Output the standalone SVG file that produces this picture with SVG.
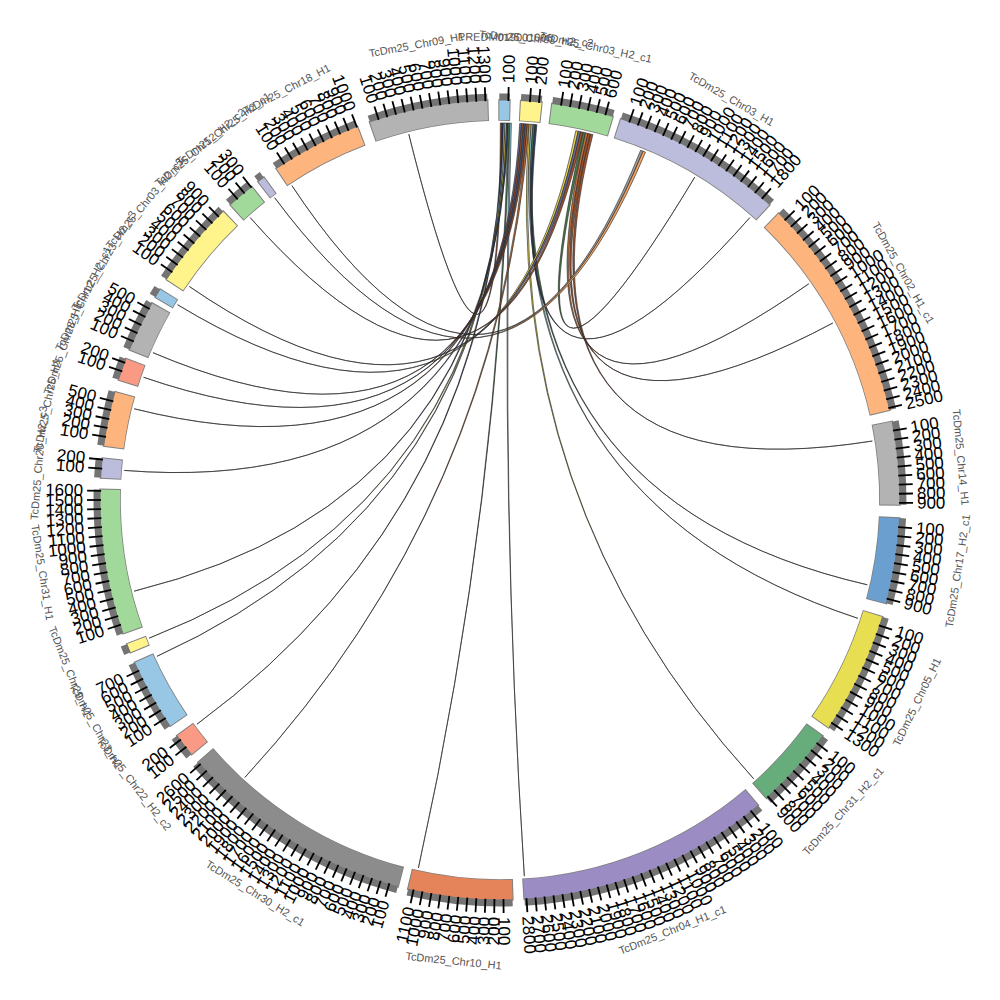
<svg xmlns="http://www.w3.org/2000/svg" xmlns:xlink="http://www.w3.org/1999/xlink" width="1000" height="1000" viewBox="0 0 1000 1000">
<style>
text{font-family:"Liberation Sans",Arial,sans-serif}
.R,.L{font-size:17px;fill:#000;dominant-baseline:central}
.L{text-anchor:end}
.nm{font-size:11px;fill:#555;text-anchor:middle;dominant-baseline:central}
.o{fill:none;stroke:#808080;stroke-width:21.6}
.f{fill:none;stroke-width:20}
.g{fill:none;stroke:#747474;stroke-width:7}
.tk{stroke:#000;stroke-width:1.8}
#links path{stroke:#1e1e1e;stroke-width:0.6}
</style>
<defs>
<line id="tr" class="tk" x1="399" y1="0" x2="413" y2="0"/>
<line id="tl" class="tk" x1="-399" y1="0" x2="-413" y2="0"/>
</defs>
<rect width="1000" height="1000" fill="#fff"/>
<g id="links">
<path fill="#a0522d" d="M500.33,123 Q500,500 408.8,134.2 Q500,500 501.91,123 Z"/>
<path fill="#2f3b66" d="M501.91,123 Q500,500 196.95,724.25 Q500,500 503.49,123.02 Z"/>
<path fill="#8fc3e3" d="M503.49,123.02 Q500,500 156.95,656.34 Q500,500 505.07,123.03 Z"/>
<path fill="#e6d44a" d="M505.07,123.03 Q500,500 149.23,638.17 Q500,500 506.65,123.06 Z"/>
<path fill="#2f3b66" d="M506.65,123.06 Q500,500 134.2,591.2 Q500,500 508.22,123.09 Z"/>
<path fill="#4a7a4a" d="M508.22,123.09 Q500,500 418.4,868.06 Q500,500 509.8,123.13 Z"/>
<path fill="#8fc3e3" d="M509.8,123.13 Q500,500 524.33,876.21 Q500,500 511.38,123.17 Z"/>
<path fill="#6b6b9a" d="M519.73,123.52 Q500,500 124.16,470.42 Q500,500 521.64,123.62 Z"/>
<path fill="#a0522d" d="M521.64,123.62 Q500,500 134.2,408.8 Q500,500 523.54,123.74 Z"/>
<path fill="#3d5a8a" d="M523.54,123.74 Q500,500 143.54,377.26 Q500,500 525.45,123.86 Z"/>
<path fill="#a0522d" d="M525.45,123.86 Q500,500 152.97,352.69 Q500,500 527.35,123.99 Z"/>
<path fill="#c0703a" d="M527.35,123.99 Q500,500 244.82,777.51 Q500,500 529.25,124.14 Z"/>
<path fill="#e6d44a" d="M529.25,124.14 Q500,500 753.73,778.84 Q500,500 531.15,124.29 Z"/>
<path fill="#8fc3e3" d="M531.15,124.29 Q500,500 857.93,618.37 Q500,500 533.05,124.45 Z"/>
<path fill="#4a7a4a" d="M533.05,124.45 Q500,500 867.34,584.81 Q500,500 534.95,124.62 Z"/>
<path fill="#2f3b66" d="M534.95,124.62 Q500,500 749.81,217.64 Q500,500 536.85,124.81 Z"/>
<path fill="#e6d44a" d="M575.81,130.7 Q500,500 177.53,304.7 Q500,500 578.25,131.21 Z"/>
<path fill="#6b6b9a" d="M578.25,131.21 Q500,500 189.3,286.46 Q500,500 580.7,131.74 Z"/>
<path fill="#a0522d" d="M580.7,131.74 Q500,500 250.19,217.64 Q500,500 583.14,132.28 Z"/>
<path fill="#4a7a4a" d="M583.14,132.28 Q500,500 694.73,177.19 Q500,500 585.57,132.84 Z"/>
<path fill="#c0703a" d="M585.57,132.84 Q500,500 808.82,283.76 Q500,500 588.01,133.42 Z"/>
<path fill="#a0522d" d="M588.01,133.42 Q500,500 832.87,323.01 Q500,500 590.43,134.01 Z"/>
<path fill="#a0522d" d="M590.43,134.01 Q500,500 872.36,441.02 Q500,500 592.86,134.61 Z"/>
<path fill="#9a9a9a" d="M640.64,150.21 Q500,500 291.92,185.63 Q500,500 643.05,151.2 Z"/>
<path fill="#f4a460" d="M643.05,151.2 Q500,500 274.7,197.73 Q500,500 645.49,152.2 Z"/>
</g>
<g id="segments" transform="translate(500 500)">
<g id="seg01">
<g transform="rotate(-90.1)"><circle class="o" r="390" pathLength="360" stroke-dasharray="1.8 360" transform="rotate(-0.15)"/><circle class="f" stroke="#97c7e5" r="390" pathLength="360" stroke-dasharray="1.5 360"/><circle class="g" r="403" pathLength="360" stroke-dasharray="1.5 360"/></g>
<g transform="rotate(-88.8)"><use href="#tr"/><text class="R" x="417">100</text></g>
<text class="nm" transform="rotate(0.65)" y="-463">PREDM019001006</text>
</g>
<g id="seg02">
<g transform="rotate(-87)"><circle class="o" r="390" pathLength="360" stroke-dasharray="3.3 360" transform="rotate(-0.15)"/><circle class="f" stroke="#fff38c" r="390" pathLength="360" stroke-dasharray="3 360"/><circle class="g" r="403" pathLength="360" stroke-dasharray="3 360"/></g>
<g transform="rotate(-85.7)"><use href="#tr"/><text class="R" x="417">100</text></g>
<g transform="rotate(-84.4)"><use href="#tr"/><text class="R" x="417">200</text></g>
<text class="nm" transform="rotate(4.5)" y="-463">TcDm25_Chr03_H2_c2</text>
</g>
<g id="seg03">
<g transform="rotate(-82.5)"><circle class="o" r="390" pathLength="360" stroke-dasharray="9.2 360" transform="rotate(-0.15)"/><circle class="f" stroke="#a1d99b" r="390" pathLength="360" stroke-dasharray="8.9 360"/><circle class="g" r="403" pathLength="360" stroke-dasharray="8.9 360"/></g>
<g transform="rotate(-81.2)"><use href="#tr"/><text class="R" x="417">100</text></g>
<g transform="rotate(-79.9)"><use href="#tr"/><text class="R" x="417">200</text></g>
<g transform="rotate(-78.6)"><use href="#tr"/><text class="R" x="417">300</text></g>
<g transform="rotate(-77.3)"><use href="#tr"/><text class="R" x="417">400</text></g>
<g transform="rotate(-76)"><use href="#tr"/><text class="R" x="417">500</text></g>
<g transform="rotate(-74.7)"><use href="#tr"/><text class="R" x="417">600</text></g>
<text class="nm" transform="rotate(11.95)" y="-463">TcDm25_Chr03_H2_c1</text>
</g>
<g id="seg04">
<g transform="rotate(-72.4)"><circle class="o" r="390" pathLength="360" stroke-dasharray="25.1 360" transform="rotate(-0.15)"/><circle class="f" stroke="#bcbddc" r="390" pathLength="360" stroke-dasharray="24.8 360"/><circle class="g" r="403" pathLength="360" stroke-dasharray="24.8 360"/></g>
<g transform="rotate(-71.1)"><use href="#tr"/><text class="R" x="417">100</text></g>
<g transform="rotate(-69.8)"><use href="#tr"/><text class="R" x="417">200</text></g>
<g transform="rotate(-68.5)"><use href="#tr"/><text class="R" x="417">300</text></g>
<g transform="rotate(-67.2)"><use href="#tr"/><text class="R" x="417">400</text></g>
<g transform="rotate(-65.9)"><use href="#tr"/><text class="R" x="417">500</text></g>
<g transform="rotate(-64.6)"><use href="#tr"/><text class="R" x="417">600</text></g>
<g transform="rotate(-63.3)"><use href="#tr"/><text class="R" x="417">700</text></g>
<g transform="rotate(-62)"><use href="#tr"/><text class="R" x="417">800</text></g>
<g transform="rotate(-60.7)"><use href="#tr"/><text class="R" x="417">900</text></g>
<g transform="rotate(-59.4)"><use href="#tr"/><text class="R" x="417">1000</text></g>
<g transform="rotate(-58.1)"><use href="#tr"/><text class="R" x="417">1100</text></g>
<g transform="rotate(-56.8)"><use href="#tr"/><text class="R" x="417">1200</text></g>
<g transform="rotate(-55.5)"><use href="#tr"/><text class="R" x="417">1300</text></g>
<g transform="rotate(-54.2)"><use href="#tr"/><text class="R" x="417">1400</text></g>
<g transform="rotate(-52.9)"><use href="#tr"/><text class="R" x="417">1500</text></g>
<g transform="rotate(-51.6)"><use href="#tr"/><text class="R" x="417">1600</text></g>
<g transform="rotate(-50.3)"><use href="#tr"/><text class="R" x="417">1700</text></g>
<g transform="rotate(-49)"><use href="#tr"/><text class="R" x="417">1800</text></g>
<text class="nm" transform="rotate(30)" y="-463">TcDm25_Chr03_H1</text>
</g>
<g id="seg05">
<g transform="rotate(-45.8)"><circle class="o" r="390" pathLength="360" stroke-dasharray="33.1 360" transform="rotate(-0.15)"/><circle class="f" stroke="#fdb47d" r="390" pathLength="360" stroke-dasharray="32.8 360"/><circle class="g" r="403" pathLength="360" stroke-dasharray="32.8 360"/></g>
<g transform="rotate(-44.5)"><use href="#tr"/><text class="R" x="417">100</text></g>
<g transform="rotate(-43.2)"><use href="#tr"/><text class="R" x="417">200</text></g>
<g transform="rotate(-41.9)"><use href="#tr"/><text class="R" x="417">300</text></g>
<g transform="rotate(-40.6)"><use href="#tr"/><text class="R" x="417">400</text></g>
<g transform="rotate(-39.3)"><use href="#tr"/><text class="R" x="417">500</text></g>
<g transform="rotate(-38)"><use href="#tr"/><text class="R" x="417">600</text></g>
<g transform="rotate(-36.7)"><use href="#tr"/><text class="R" x="417">700</text></g>
<g transform="rotate(-35.4)"><use href="#tr"/><text class="R" x="417">800</text></g>
<g transform="rotate(-34.1)"><use href="#tr"/><text class="R" x="417">900</text></g>
<g transform="rotate(-32.8)"><use href="#tr"/><text class="R" x="417">1000</text></g>
<g transform="rotate(-31.5)"><use href="#tr"/><text class="R" x="417">1100</text></g>
<g transform="rotate(-30.2)"><use href="#tr"/><text class="R" x="417">1200</text></g>
<g transform="rotate(-28.9)"><use href="#tr"/><text class="R" x="417">1300</text></g>
<g transform="rotate(-27.6)"><use href="#tr"/><text class="R" x="417">1400</text></g>
<g transform="rotate(-26.3)"><use href="#tr"/><text class="R" x="417">1500</text></g>
<g transform="rotate(-25)"><use href="#tr"/><text class="R" x="417">1600</text></g>
<g transform="rotate(-23.7)"><use href="#tr"/><text class="R" x="417">1700</text></g>
<g transform="rotate(-22.4)"><use href="#tr"/><text class="R" x="417">1800</text></g>
<g transform="rotate(-21.1)"><use href="#tr"/><text class="R" x="417">1900</text></g>
<g transform="rotate(-19.8)"><use href="#tr"/><text class="R" x="417">2000</text></g>
<g transform="rotate(-18.5)"><use href="#tr"/><text class="R" x="417">2100</text></g>
<g transform="rotate(-17.2)"><use href="#tr"/><text class="R" x="417">2200</text></g>
<g transform="rotate(-15.9)"><use href="#tr"/><text class="R" x="417">2300</text></g>
<g transform="rotate(-14.6)"><use href="#tr"/><text class="R" x="417">2400</text></g>
<g transform="rotate(-13.3)"><use href="#tr"/><text class="R" x="417">2500</text></g>
<text class="nm" transform="rotate(60.6)" y="-463">TcDm25_Chr02_H1_c1</text>
</g>
<g id="seg06">
<g transform="rotate(-11.3)"><circle class="o" r="390" pathLength="360" stroke-dasharray="12.3 360" transform="rotate(-0.15)"/><circle class="f" stroke="#b3b3b3" r="390" pathLength="360" stroke-dasharray="12 360"/><circle class="g" r="403" pathLength="360" stroke-dasharray="12 360"/></g>
<g transform="rotate(-10)"><use href="#tr"/><text class="R" x="417">100</text></g>
<g transform="rotate(-8.7)"><use href="#tr"/><text class="R" x="417">200</text></g>
<g transform="rotate(-7.4)"><use href="#tr"/><text class="R" x="417">300</text></g>
<g transform="rotate(-6.1)"><use href="#tr"/><text class="R" x="417">400</text></g>
<g transform="rotate(-4.8)"><use href="#tr"/><text class="R" x="417">500</text></g>
<g transform="rotate(-3.5)"><use href="#tr"/><text class="R" x="417">600</text></g>
<g transform="rotate(-2.2)"><use href="#tr"/><text class="R" x="417">700</text></g>
<g transform="rotate(-0.9)"><use href="#tr"/><text class="R" x="417">800</text></g>
<g transform="rotate(0.4)"><use href="#tr"/><text class="R" x="417">900</text></g>
<text class="nm" transform="rotate(84.7)" y="-463">TcDm25_Chr14_H1</text>
</g>
<g id="seg07">
<g transform="rotate(2.6)"><circle class="o" r="390" pathLength="360" stroke-dasharray="12.7 360" transform="rotate(-0.15)"/><circle class="f" stroke="#6a9fd0" r="390" pathLength="360" stroke-dasharray="12.4 360"/><circle class="g" r="403" pathLength="360" stroke-dasharray="12.4 360"/></g>
<g transform="rotate(3.9)"><use href="#tr"/><text class="R" x="417">100</text></g>
<g transform="rotate(5.2)"><use href="#tr"/><text class="R" x="417">200</text></g>
<g transform="rotate(6.5)"><use href="#tr"/><text class="R" x="417">300</text></g>
<g transform="rotate(7.8)"><use href="#tr"/><text class="R" x="417">400</text></g>
<g transform="rotate(9.1)"><use href="#tr"/><text class="R" x="417">500</text></g>
<g transform="rotate(10.4)"><use href="#tr"/><text class="R" x="417">600</text></g>
<g transform="rotate(11.7)"><use href="#tr"/><text class="R" x="417">700</text></g>
<g transform="rotate(13)"><use href="#tr"/><text class="R" x="417">800</text></g>
<g transform="rotate(14.3)"><use href="#tr"/><text class="R" x="417">900</text></g>
<text class="nm" transform="rotate(-81.2)" y="463">TcDm25_Chr17_H2_c1</text>
</g>
<g id="seg08">
<g transform="rotate(17)"><circle class="o" r="390" pathLength="360" stroke-dasharray="18 360" transform="rotate(-0.15)"/><circle class="f" stroke="#e8de52" r="390" pathLength="360" stroke-dasharray="17.7 360"/><circle class="g" r="403" pathLength="360" stroke-dasharray="17.7 360"/></g>
<g transform="rotate(18.3)"><use href="#tr"/><text class="R" x="417">100</text></g>
<g transform="rotate(19.6)"><use href="#tr"/><text class="R" x="417">200</text></g>
<g transform="rotate(20.9)"><use href="#tr"/><text class="R" x="417">300</text></g>
<g transform="rotate(22.2)"><use href="#tr"/><text class="R" x="417">400</text></g>
<g transform="rotate(23.5)"><use href="#tr"/><text class="R" x="417">500</text></g>
<g transform="rotate(24.8)"><use href="#tr"/><text class="R" x="417">600</text></g>
<g transform="rotate(26.1)"><use href="#tr"/><text class="R" x="417">700</text></g>
<g transform="rotate(27.4)"><use href="#tr"/><text class="R" x="417">800</text></g>
<g transform="rotate(28.7)"><use href="#tr"/><text class="R" x="417">900</text></g>
<g transform="rotate(30)"><use href="#tr"/><text class="R" x="417">1000</text></g>
<g transform="rotate(31.3)"><use href="#tr"/><text class="R" x="417">1100</text></g>
<g transform="rotate(32.6)"><use href="#tr"/><text class="R" x="417">1200</text></g>
<g transform="rotate(33.9)"><use href="#tr"/><text class="R" x="417">1300</text></g>
<text class="nm" transform="rotate(-64.15)" y="463">TcDm25_Chr05_H1</text>
</g>
<g id="seg09">
<g transform="rotate(36.2)"><circle class="o" r="390" pathLength="360" stroke-dasharray="12.3 360" transform="rotate(-0.15)"/><circle class="f" stroke="#67ad7b" r="390" pathLength="360" stroke-dasharray="12 360"/><circle class="g" r="403" pathLength="360" stroke-dasharray="12 360"/></g>
<g transform="rotate(37.5)"><use href="#tr"/><text class="R" x="417">100</text></g>
<g transform="rotate(38.8)"><use href="#tr"/><text class="R" x="417">200</text></g>
<g transform="rotate(40.1)"><use href="#tr"/><text class="R" x="417">300</text></g>
<g transform="rotate(41.4)"><use href="#tr"/><text class="R" x="417">400</text></g>
<g transform="rotate(42.7)"><use href="#tr"/><text class="R" x="417">500</text></g>
<g transform="rotate(44)"><use href="#tr"/><text class="R" x="417">600</text></g>
<g transform="rotate(45.3)"><use href="#tr"/><text class="R" x="417">700</text></g>
<g transform="rotate(46.6)"><use href="#tr"/><text class="R" x="417">800</text></g>
<g transform="rotate(47.9)"><use href="#tr"/><text class="R" x="417">900</text></g>
<text class="nm" transform="rotate(-47.8)" y="463">TcDm25_Chr31_H2_c1</text>
</g>
<g id="seg10">
<g transform="rotate(49.8)"><circle class="o" r="390" pathLength="360" stroke-dasharray="37 360" transform="rotate(-0.15)"/><circle class="f" stroke="#9b8cc3" r="390" pathLength="360" stroke-dasharray="36.7 360"/><circle class="g" r="403" pathLength="360" stroke-dasharray="36.7 360"/></g>
<g transform="rotate(51.1)"><use href="#tr"/><text class="R" x="417">100</text></g>
<g transform="rotate(52.4)"><use href="#tr"/><text class="R" x="417">200</text></g>
<g transform="rotate(53.7)"><use href="#tr"/><text class="R" x="417">300</text></g>
<g transform="rotate(55)"><use href="#tr"/><text class="R" x="417">400</text></g>
<g transform="rotate(56.3)"><use href="#tr"/><text class="R" x="417">500</text></g>
<g transform="rotate(57.6)"><use href="#tr"/><text class="R" x="417">600</text></g>
<g transform="rotate(58.9)"><use href="#tr"/><text class="R" x="417">700</text></g>
<g transform="rotate(60.2)"><use href="#tr"/><text class="R" x="417">800</text></g>
<g transform="rotate(61.5)"><use href="#tr"/><text class="R" x="417">900</text></g>
<g transform="rotate(62.8)"><use href="#tr"/><text class="R" x="417">1000</text></g>
<g transform="rotate(64.1)"><use href="#tr"/><text class="R" x="417">1100</text></g>
<g transform="rotate(65.4)"><use href="#tr"/><text class="R" x="417">1200</text></g>
<g transform="rotate(66.7)"><use href="#tr"/><text class="R" x="417">1300</text></g>
<g transform="rotate(68)"><use href="#tr"/><text class="R" x="417">1400</text></g>
<g transform="rotate(69.3)"><use href="#tr"/><text class="R" x="417">1500</text></g>
<g transform="rotate(70.6)"><use href="#tr"/><text class="R" x="417">1600</text></g>
<g transform="rotate(71.9)"><use href="#tr"/><text class="R" x="417">1700</text></g>
<g transform="rotate(73.2)"><use href="#tr"/><text class="R" x="417">1800</text></g>
<g transform="rotate(74.5)"><use href="#tr"/><text class="R" x="417">1900</text></g>
<g transform="rotate(75.8)"><use href="#tr"/><text class="R" x="417">2000</text></g>
<g transform="rotate(77.1)"><use href="#tr"/><text class="R" x="417">2100</text></g>
<g transform="rotate(78.4)"><use href="#tr"/><text class="R" x="417">2200</text></g>
<g transform="rotate(79.7)"><use href="#tr"/><text class="R" x="417">2300</text></g>
<g transform="rotate(81)"><use href="#tr"/><text class="R" x="417">2400</text></g>
<g transform="rotate(82.3)"><use href="#tr"/><text class="R" x="417">2500</text></g>
<g transform="rotate(83.6)"><use href="#tr"/><text class="R" x="417">2600</text></g>
<g transform="rotate(84.9)"><use href="#tr"/><text class="R" x="417">2700</text></g>
<g transform="rotate(86.2)"><use href="#tr"/><text class="R" x="417">2800</text></g>
<text class="nm" transform="rotate(-21.85)" y="463">TcDm25_Chr04_H1_c1</text>
</g>
<g id="seg11">
<g transform="rotate(88.2)"><circle class="o" r="390" pathLength="360" stroke-dasharray="15.4 360" transform="rotate(-0.15)"/><circle class="f" stroke="#e5845a" r="390" pathLength="360" stroke-dasharray="15.1 360"/><circle class="g" r="403" pathLength="360" stroke-dasharray="15.1 360"/></g>
<g transform="rotate(89.5)"><use href="#tr"/><text class="R" x="417">100</text></g>
<g transform="rotate(270.8)"><use href="#tl"/><text class="L" x="-417">200</text></g>
<g transform="rotate(272.1)"><use href="#tl"/><text class="L" x="-417">300</text></g>
<g transform="rotate(273.4)"><use href="#tl"/><text class="L" x="-417">400</text></g>
<g transform="rotate(274.7)"><use href="#tl"/><text class="L" x="-417">500</text></g>
<g transform="rotate(276)"><use href="#tl"/><text class="L" x="-417">600</text></g>
<g transform="rotate(277.3)"><use href="#tl"/><text class="L" x="-417">700</text></g>
<g transform="rotate(278.6)"><use href="#tl"/><text class="L" x="-417">800</text></g>
<g transform="rotate(279.9)"><use href="#tl"/><text class="L" x="-417">900</text></g>
<g transform="rotate(281.2)"><use href="#tl"/><text class="L" x="-417">1000</text></g>
<g transform="rotate(282.5)"><use href="#tl"/><text class="L" x="-417">1100</text></g>
<text class="nm" transform="rotate(5.75)" y="463">TcDm25_Chr10_H1</text>
</g>
<g id="seg12">
<g transform="rotate(104.8)"><circle class="o" r="390" pathLength="360" stroke-dasharray="34.5 360" transform="rotate(-0.15)"/><circle class="f" stroke="#8c8c8c" r="390" pathLength="360" stroke-dasharray="34.2 360"/><circle class="g" r="403" pathLength="360" stroke-dasharray="34.2 360"/></g>
<g transform="rotate(286.1)"><use href="#tl"/><text class="L" x="-417">100</text></g>
<g transform="rotate(287.4)"><use href="#tl"/><text class="L" x="-417">200</text></g>
<g transform="rotate(288.7)"><use href="#tl"/><text class="L" x="-417">300</text></g>
<g transform="rotate(290)"><use href="#tl"/><text class="L" x="-417">400</text></g>
<g transform="rotate(291.3)"><use href="#tl"/><text class="L" x="-417">500</text></g>
<g transform="rotate(292.6)"><use href="#tl"/><text class="L" x="-417">600</text></g>
<g transform="rotate(293.9)"><use href="#tl"/><text class="L" x="-417">700</text></g>
<g transform="rotate(295.2)"><use href="#tl"/><text class="L" x="-417">800</text></g>
<g transform="rotate(296.5)"><use href="#tl"/><text class="L" x="-417">900</text></g>
<g transform="rotate(297.8)"><use href="#tl"/><text class="L" x="-417">1000</text></g>
<g transform="rotate(299.1)"><use href="#tl"/><text class="L" x="-417">1100</text></g>
<g transform="rotate(300.4)"><use href="#tl"/><text class="L" x="-417">1200</text></g>
<g transform="rotate(301.7)"><use href="#tl"/><text class="L" x="-417">1300</text></g>
<g transform="rotate(303)"><use href="#tl"/><text class="L" x="-417">1400</text></g>
<g transform="rotate(304.3)"><use href="#tl"/><text class="L" x="-417">1500</text></g>
<g transform="rotate(305.6)"><use href="#tl"/><text class="L" x="-417">1600</text></g>
<g transform="rotate(306.9)"><use href="#tl"/><text class="L" x="-417">1700</text></g>
<g transform="rotate(308.2)"><use href="#tl"/><text class="L" x="-417">1800</text></g>
<g transform="rotate(309.5)"><use href="#tl"/><text class="L" x="-417">1900</text></g>
<g transform="rotate(310.8)"><use href="#tl"/><text class="L" x="-417">2000</text></g>
<g transform="rotate(312.1)"><use href="#tl"/><text class="L" x="-417">2100</text></g>
<g transform="rotate(313.4)"><use href="#tl"/><text class="L" x="-417">2200</text></g>
<g transform="rotate(314.7)"><use href="#tl"/><text class="L" x="-417">2300</text></g>
<g transform="rotate(316)"><use href="#tl"/><text class="L" x="-417">2400</text></g>
<g transform="rotate(317.3)"><use href="#tl"/><text class="L" x="-417">2500</text></g>
<g transform="rotate(318.6)"><use href="#tl"/><text class="L" x="-417">2600</text></g>
<text class="nm" transform="rotate(31.9)" y="463">TcDm25_Chr30_H2_c1</text>
</g>
<g id="seg13">
<g transform="rotate(140.5)"><circle class="o" r="390" pathLength="360" stroke-dasharray="3.7 360" transform="rotate(-0.15)"/><circle class="f" stroke="#fb9a84" r="390" pathLength="360" stroke-dasharray="3.4 360"/><circle class="g" r="403" pathLength="360" stroke-dasharray="3.4 360"/></g>
<g transform="rotate(321.8)"><use href="#tl"/><text class="L" x="-417">100</text></g>
<g transform="rotate(323.1)"><use href="#tl"/><text class="L" x="-417">200</text></g>
<text class="nm" transform="rotate(52.2)" y="463">TcDm25_Chr22_H2_c2</text>
</g>
<g id="seg14">
<g transform="rotate(145.6)"><circle class="o" r="390" pathLength="360" stroke-dasharray="10.7 360" transform="rotate(-0.15)"/><circle class="f" stroke="#97c7e5" r="390" pathLength="360" stroke-dasharray="10.4 360"/><circle class="g" r="403" pathLength="360" stroke-dasharray="10.4 360"/></g>
<g transform="rotate(326.9)"><use href="#tl"/><text class="L" x="-417">100</text></g>
<g transform="rotate(328.2)"><use href="#tl"/><text class="L" x="-417">200</text></g>
<g transform="rotate(329.5)"><use href="#tl"/><text class="L" x="-417">300</text></g>
<g transform="rotate(330.8)"><use href="#tl"/><text class="L" x="-417">400</text></g>
<g transform="rotate(332.1)"><use href="#tl"/><text class="L" x="-417">500</text></g>
<g transform="rotate(333.4)"><use href="#tl"/><text class="L" x="-417">600</text></g>
<g transform="rotate(334.7)"><use href="#tl"/><text class="L" x="-417">700</text></g>
<text class="nm" transform="rotate(60.8)" y="463">TcDm25_Chr23_H1</text>
</g>
<g id="seg15">
<g transform="rotate(157.6)"><circle class="o" r="390" pathLength="360" stroke-dasharray="1.6 360" transform="rotate(-0.15)"/><circle class="f" stroke="#fff38c" r="390" pathLength="360" stroke-dasharray="1.3 360"/><circle class="g" r="403" pathLength="360" stroke-dasharray="1.3 360"/></g>
<text class="nm" transform="rotate(68.25)" y="463">TcDm25_Chr29_H1</text>
</g>
<g id="seg16">
<g transform="rotate(160.5)"><circle class="o" r="390" pathLength="360" stroke-dasharray="21.3 360" transform="rotate(-0.15)"/><circle class="f" stroke="#a1d99b" r="390" pathLength="360" stroke-dasharray="21 360"/><circle class="g" r="403" pathLength="360" stroke-dasharray="21 360"/></g>
<g transform="rotate(341.8)"><use href="#tl"/><text class="L" x="-417">100</text></g>
<g transform="rotate(343.1)"><use href="#tl"/><text class="L" x="-417">200</text></g>
<g transform="rotate(344.4)"><use href="#tl"/><text class="L" x="-417">300</text></g>
<g transform="rotate(345.7)"><use href="#tl"/><text class="L" x="-417">400</text></g>
<g transform="rotate(347)"><use href="#tl"/><text class="L" x="-417">500</text></g>
<g transform="rotate(348.3)"><use href="#tl"/><text class="L" x="-417">600</text></g>
<g transform="rotate(349.6)"><use href="#tl"/><text class="L" x="-417">700</text></g>
<g transform="rotate(350.9)"><use href="#tl"/><text class="L" x="-417">800</text></g>
<g transform="rotate(352.2)"><use href="#tl"/><text class="L" x="-417">900</text></g>
<g transform="rotate(353.5)"><use href="#tl"/><text class="L" x="-417">1000</text></g>
<g transform="rotate(354.8)"><use href="#tl"/><text class="L" x="-417">1100</text></g>
<g transform="rotate(356.1)"><use href="#tl"/><text class="L" x="-417">1200</text></g>
<g transform="rotate(357.4)"><use href="#tl"/><text class="L" x="-417">1300</text></g>
<g transform="rotate(358.7)"><use href="#tl"/><text class="L" x="-417">1400</text></g>
<g transform="rotate(360)"><use href="#tl"/><text class="L" x="-417">1500</text></g>
<g transform="rotate(361.3)"><use href="#tl"/><text class="L" x="-417">1600</text></g>
<text class="nm" transform="rotate(81)" y="463">TcDm25_Chr31_H1</text>
</g>
<g id="seg17">
<g transform="rotate(183.2)"><circle class="o" r="390" pathLength="360" stroke-dasharray="3.1 360" transform="rotate(-0.15)"/><circle class="f" stroke="#bcbddc" r="390" pathLength="360" stroke-dasharray="2.8 360"/><circle class="g" r="403" pathLength="360" stroke-dasharray="2.8 360"/></g>
<g transform="rotate(364.5)"><use href="#tl"/><text class="L" x="-417">100</text></g>
<g transform="rotate(365.8)"><use href="#tl"/><text class="L" x="-417">200</text></g>
<text class="nm" transform="rotate(274.6)" y="-463">TcDm25_Chr20_H2_c3</text>
</g>
<g id="seg18">
<g transform="rotate(187.8)"><circle class="o" r="390" pathLength="360" stroke-dasharray="8.2 360" transform="rotate(-0.15)"/><circle class="f" stroke="#fdb47d" r="390" pathLength="360" stroke-dasharray="7.9 360"/><circle class="g" r="403" pathLength="360" stroke-dasharray="7.9 360"/></g>
<g transform="rotate(369.1)"><use href="#tl"/><text class="L" x="-417">100</text></g>
<g transform="rotate(370.4)"><use href="#tl"/><text class="L" x="-417">200</text></g>
<g transform="rotate(371.7)"><use href="#tl"/><text class="L" x="-417">300</text></g>
<g transform="rotate(373)"><use href="#tl"/><text class="L" x="-417">400</text></g>
<g transform="rotate(374.3)"><use href="#tl"/><text class="L" x="-417">500</text></g>
<text class="nm" transform="rotate(281.75)" y="-463">TcDm25_Chr25_H1</text>
</g>
<g id="seg19">
<g transform="rotate(197.5)"><circle class="o" r="390" pathLength="360" stroke-dasharray="3.5 360" transform="rotate(-0.15)"/><circle class="f" stroke="#fb9a84" r="390" pathLength="360" stroke-dasharray="3.2 360"/><circle class="g" r="403" pathLength="360" stroke-dasharray="3.2 360"/></g>
<g transform="rotate(378.8)"><use href="#tl"/><text class="L" x="-417">100</text></g>
<g transform="rotate(380.1)"><use href="#tl"/><text class="L" x="-417">200</text></g>
<text class="nm" transform="rotate(289.1)" y="-463">TcDm25_Chr28_H1</text>
</g>
<g id="seg20">
<g transform="rotate(202.1)"><circle class="o" r="390" pathLength="360" stroke-dasharray="7.7 360" transform="rotate(-0.15)"/><circle class="f" stroke="#b3b3b3" r="390" pathLength="360" stroke-dasharray="7.4 360"/><circle class="g" r="403" pathLength="360" stroke-dasharray="7.4 360"/></g>
<g transform="rotate(383.4)"><use href="#tl"/><text class="L" x="-417">100</text></g>
<g transform="rotate(384.7)"><use href="#tl"/><text class="L" x="-417">200</text></g>
<g transform="rotate(386)"><use href="#tl"/><text class="L" x="-417">300</text></g>
<g transform="rotate(387.3)"><use href="#tl"/><text class="L" x="-417">400</text></g>
<g transform="rotate(388.6)"><use href="#tl"/><text class="L" x="-417">500</text></g>
<text class="nm" transform="rotate(295.8)" y="-463">TcDm25_Chr12_H2_c1</text>
</g>
<g id="seg21">
<g transform="rotate(210.5)"><circle class="o" r="390" pathLength="360" stroke-dasharray="1.6 360" transform="rotate(-0.15)"/><circle class="f" stroke="#97c7e5" r="390" pathLength="360" stroke-dasharray="1.3 360"/><circle class="g" r="403" pathLength="360" stroke-dasharray="1.3 360"/></g>
<text class="nm" transform="rotate(301.15)" y="-463">TcDm25_Chr23_H2_c3</text>
</g>
<g id="seg22">
<g transform="rotate(213.5)"><circle class="o" r="390" pathLength="360" stroke-dasharray="13 360" transform="rotate(-0.15)"/><circle class="f" stroke="#fff38c" r="390" pathLength="360" stroke-dasharray="12.7 360"/><circle class="g" r="403" pathLength="360" stroke-dasharray="12.7 360"/></g>
<g transform="rotate(394.8)"><use href="#tl"/><text class="L" x="-417">100</text></g>
<g transform="rotate(396.1)"><use href="#tl"/><text class="L" x="-417">200</text></g>
<g transform="rotate(397.4)"><use href="#tl"/><text class="L" x="-417">300</text></g>
<g transform="rotate(398.7)"><use href="#tl"/><text class="L" x="-417">400</text></g>
<g transform="rotate(400)"><use href="#tl"/><text class="L" x="-417">500</text></g>
<g transform="rotate(401.3)"><use href="#tl"/><text class="L" x="-417">600</text></g>
<g transform="rotate(402.6)"><use href="#tl"/><text class="L" x="-417">700</text></g>
<g transform="rotate(403.9)"><use href="#tl"/><text class="L" x="-417">800</text></g>
<g transform="rotate(405.2)"><use href="#tl"/><text class="L" x="-417">900</text></g>
<text class="nm" transform="rotate(309.85)" y="-463">TcDm25_Chr03_H2_c3</text>
</g>
<g id="seg23">
<g transform="rotate(227.6)"><circle class="o" r="390" pathLength="360" stroke-dasharray="4.3 360" transform="rotate(-0.15)"/><circle class="f" stroke="#a1d99b" r="390" pathLength="360" stroke-dasharray="4 360"/><circle class="g" r="403" pathLength="360" stroke-dasharray="4 360"/></g>
<g transform="rotate(408.9)"><use href="#tl"/><text class="L" x="-417">100</text></g>
<g transform="rotate(410.2)"><use href="#tl"/><text class="L" x="-417">200</text></g>
<g transform="rotate(411.5)"><use href="#tl"/><text class="L" x="-417">300</text></g>
<text class="nm" transform="rotate(319.6)" y="-463">TcDm25_Chr12_H2_c2</text>
</g>
<g id="seg24">
<g transform="rotate(232.8)"><circle class="o" r="390" pathLength="360" stroke-dasharray="1.3 360" transform="rotate(-0.15)"/><circle class="f" stroke="#bcbddc" r="390" pathLength="360" stroke-dasharray="1 360"/><circle class="g" r="403" pathLength="360" stroke-dasharray="1 360"/></g>
<text class="nm" transform="rotate(323.3)" y="-463">TcDm25_Chr25_H2_c1</text>
</g>
<g id="seg25">
<g transform="rotate(236)"><circle class="o" r="390" pathLength="360" stroke-dasharray="13.4 360" transform="rotate(-0.15)"/><circle class="f" stroke="#fdb47d" r="390" pathLength="360" stroke-dasharray="13.1 360"/><circle class="g" r="403" pathLength="360" stroke-dasharray="13.1 360"/></g>
<g transform="rotate(417.3)"><use href="#tl"/><text class="L" x="-417">100</text></g>
<g transform="rotate(418.6)"><use href="#tl"/><text class="L" x="-417">200</text></g>
<g transform="rotate(419.9)"><use href="#tl"/><text class="L" x="-417">300</text></g>
<g transform="rotate(421.2)"><use href="#tl"/><text class="L" x="-417">400</text></g>
<g transform="rotate(422.5)"><use href="#tl"/><text class="L" x="-417">500</text></g>
<g transform="rotate(423.8)"><use href="#tl"/><text class="L" x="-417">600</text></g>
<g transform="rotate(425.1)"><use href="#tl"/><text class="L" x="-417">700</text></g>
<g transform="rotate(426.4)"><use href="#tl"/><text class="L" x="-417">800</text></g>
<g transform="rotate(427.7)"><use href="#tl"/><text class="L" x="-417">900</text></g>
<g transform="rotate(429)"><use href="#tl"/><text class="L" x="-417">1000</text></g>
<text class="nm" transform="rotate(332.55)" y="-463">TcDm25_Chr18_H1</text>
</g>
<g id="seg26">
<g transform="rotate(251)"><circle class="o" r="390" pathLength="360" stroke-dasharray="17.5 360" transform="rotate(-0.15)"/><circle class="f" stroke="#b3b3b3" r="390" pathLength="360" stroke-dasharray="17.2 360"/><circle class="g" r="403" pathLength="360" stroke-dasharray="17.2 360"/></g>
<g transform="rotate(432.3)"><use href="#tl"/><text class="L" x="-417">100</text></g>
<g transform="rotate(433.6)"><use href="#tl"/><text class="L" x="-417">200</text></g>
<g transform="rotate(434.9)"><use href="#tl"/><text class="L" x="-417">300</text></g>
<g transform="rotate(436.2)"><use href="#tl"/><text class="L" x="-417">400</text></g>
<g transform="rotate(437.5)"><use href="#tl"/><text class="L" x="-417">500</text></g>
<g transform="rotate(438.8)"><use href="#tl"/><text class="L" x="-417">600</text></g>
<g transform="rotate(440.1)"><use href="#tl"/><text class="L" x="-417">700</text></g>
<g transform="rotate(441.4)"><use href="#tl"/><text class="L" x="-417">800</text></g>
<g transform="rotate(442.7)"><use href="#tl"/><text class="L" x="-417">900</text></g>
<g transform="rotate(444)"><use href="#tl"/><text class="L" x="-417">1000</text></g>
<g transform="rotate(445.3)"><use href="#tl"/><text class="L" x="-417">1100</text></g>
<g transform="rotate(446.6)"><use href="#tl"/><text class="L" x="-417">1200</text></g>
<g transform="rotate(447.9)"><use href="#tl"/><text class="L" x="-417">1300</text></g>
<text class="nm" transform="rotate(349.6)" y="-463">TcDm25_Chr09_H1</text>
</g>
</g>
</svg>
